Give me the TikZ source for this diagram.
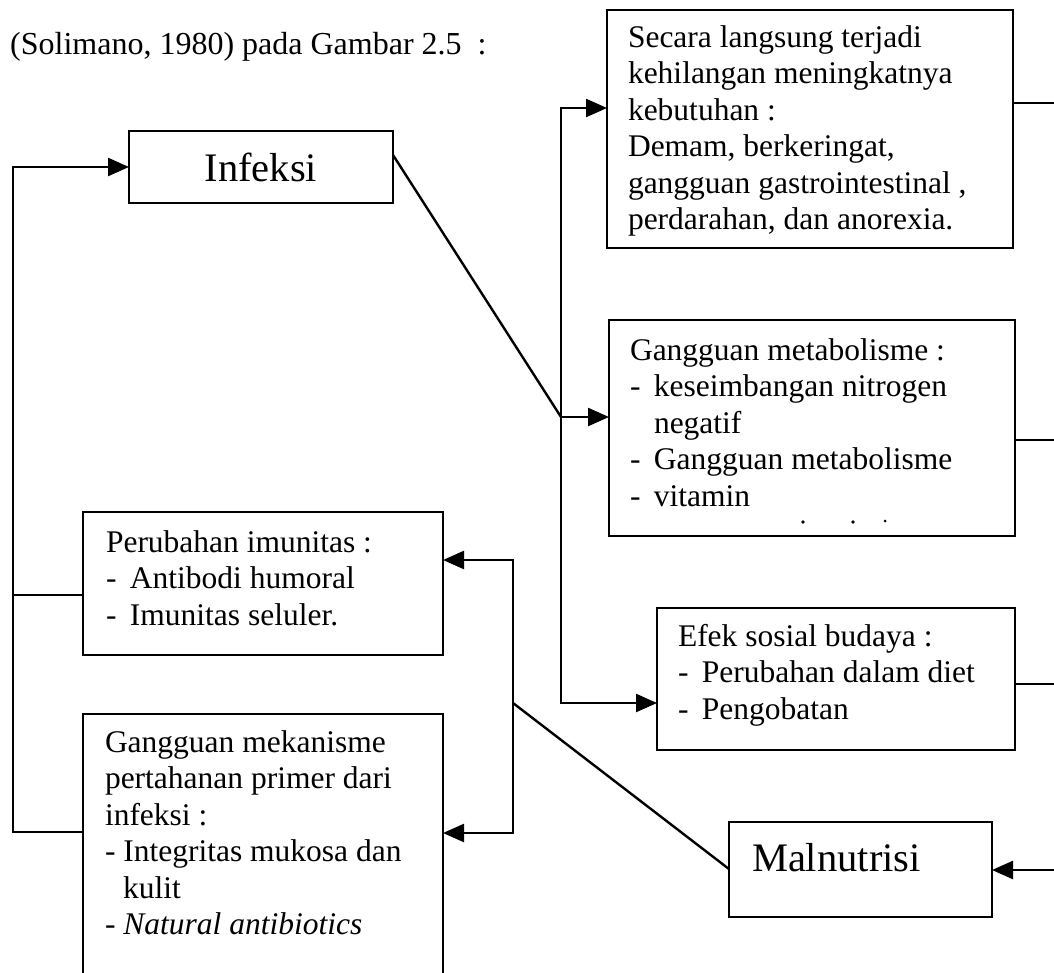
\documentclass[tikz,border=0pt]{standalone}
\usepackage{fontspec}
\setmainfont{Liberation Serif}
\usetikzlibrary{arrows.meta,calc}
\newcommand\dItem[1]{\makebox[24pt][l]{-}#1}
\begin{document}
\begin{tikzpicture}[x=1pt,y=-1pt,
  tbox/.style={draw,line width=2.8pt,rectangle,anchor=north west,inner xsep=21pt,inner ysep=0pt,outer sep=0pt,font=\fontsize{31.5}{36.5}\selectfont},
  big/.style={draw,line width=2.8pt,rectangle,inner sep=0pt,outer sep=0pt,font=\fontsize{40.5}{44}\selectfont},
  conn/.style={line width=2.4pt},
  arr/.style={conn,-{Triangle[length=21pt,width=18pt]}}]
\useasboundingbox (0,0) rectangle (1054,972);
\clip (0,0) rectangle (1054,972);
\fill[white] (0,0) rectangle (1054,972);

\node[anchor=base west,inner sep=0pt,font=\fontsize{32}{36}\selectfont] (title) at (10,54) {(Solimano, 1980) pada Gambar 2.5\hspace{16pt}:};

\node[big,minimum width=264pt,minimum height=72pt] (inf) at (261,167) {Infeksi};

\node[tbox] (b1) at (607,10) {\parbox[c][238pt][t]{364pt}{\raggedright\rule{0pt}{37pt}Secara langsung terjadi\\kehilangan meningkatnya\\kebutuhan :\\Demam, berkeringat,\\gangguan gastrointestinal ,\\perdarahan, dan anorexia.}};

\node[tbox] (b2) at (609,320) {\parbox[c][216pt][t]{364pt}{\raggedright\rule{0pt}{40pt}Gangguan metabolisme :\\\dItem{keseimbangan nitrogen}\\\hspace*{24pt}negatif\\\dItem{Gangguan metabolisme}\\\dItem{vitamin}}};

\node[tbox] (b3) at (657,608) {\parbox[c][142pt][t]{316pt}{\raggedright\rule{0pt}{38pt}Efek sosial budaya :\\\dItem{Perubahan dalam diet}\\\dItem{Pengobatan}}};

\node[tbox,inner xsep=23pt,font=\fontsize{40.5}{44}\selectfont] (mal) at (729,822) {\parbox[c][95pt][t]{217pt}{\raggedright\rule{0pt}{49pt}Malnutrisi}};

\node[tbox,inner xsep=23pt] (p1) at (83,512) {\parbox[c][143pt][t]{314pt}{\raggedright\rule{0pt}{40pt}Perubahan imunitas :\\\dItem{Antibodi humoral}\\\dItem{Imunitas seluler.}}};

\node[tbox,inner xsep=22pt] (p2) at (83,714) {\parbox[c][280pt][t]{316pt}{\raggedright\rule{0pt}{38pt}Gangguan mekanisme\\pertahanan primer dari\\infeksi :\\- Integritas mukosa dan\\\hspace*{18pt}kulit\\- \textit{Natural antibiotics}}};

% small dot remnants at bottom of b2
\fill (803,522) circle (1.8);
\fill (853,522) circle (1.8);
\fill (885,521) circle (1.5);

% coordinates
\coordinate (LT) at (13,167);
\coordinate (LA) at (13,595);
\coordinate (LB) at (13,832);
\coordinate (MT) at (561,108);
\coordinate (MM) at (561,417);
\coordinate (MB) at (561,703);
\coordinate (RT) at (513,560);
\coordinate (RM) at (513,703);
\coordinate (RB) at (513,833);
\coordinate (E1) at (1054,103);
\coordinate (E2) at (1054,440);
\coordinate (E3) at (1054,684);
\coordinate (E4) at (1054,870);

% left feedback loop
\draw[arr] (p2.west |- LB) -- (LB) -- (LT) -- (inf.west);
\draw[conn] (p1.west |- LA) -- (LA);

% infeksi to effects
\draw[conn] ($(inf.north east)+(0,24)$) -- (MM);
\draw[arr] (MM) -- (b2.west |- MM);
\draw[arr] (MM) -- (MT) -- (b1.west |- MT);
\draw[arr] (MM) -- (MB) -- (b3.west |- MB);

% malnutrisi to immunity
\draw[conn] ($(mal.north west)+(0,47)$) -- (RM);
\draw[arr] (RM) -- (RT) -- (p1.east |- RT);
\draw[arr] (RM) -- (RB) -- (p2.east |- RB);

% right edge lines
\draw[conn] (b1.east |- E1) -- (E1);
\draw[conn] (b2.east |- E2) -- (E2);
\draw[conn] (b3.east |- E3) -- (E3);
\draw[arr] (E4) -- (mal.east |- E4);
\end{tikzpicture}
\end{document}
